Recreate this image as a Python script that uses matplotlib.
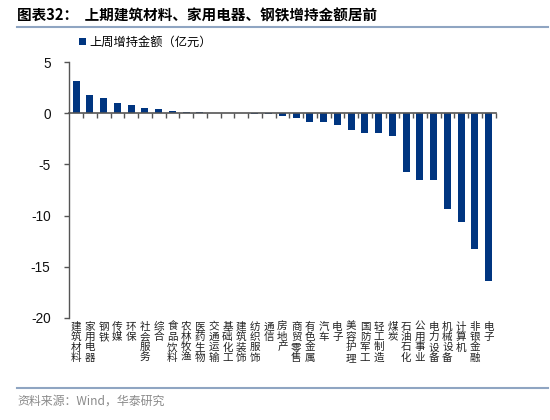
import matplotlib
matplotlib.use("Agg")
import matplotlib.pyplot as plt
from matplotlib.lines import Line2D
from matplotlib.patches import Patch
import matplotlib.transforms as mtransforms

plt.rcParams['font.family'] = ['Noto Sans CJK SC', 'DejaVu Sans']

categories = ["建筑材料", "家用电器", "钢铁", "传媒", "环保", "社会服务", "综合", "食品饮料",
              "农林牧渔", "医药生物", "交通运输", "基础化工", "建筑装饰", "纺织服饰", "通信",
              "房地产", "商贸零售", "有色金属", "汽车", "电子", "美容护理", "国防军工",
              "轻工制造", "煤炭", "石油石化", "公用事业", "电力设备", "机械设备", "计算机",
              "非银金融", "电子"]
values = [3.2, 1.8, 1.5, 1.0, 0.78, 0.52, 0.46, 0.26, 0.13, 0.1, 0.03, 0.02, 0.01, -0.02,
          -0.08, -0.25, -0.5, -0.86, -0.86, -1.1, -1.66, -1.9, -1.95, -2.2, -5.7, -6.5,
          -6.55, -9.4, -10.6, -13.3, -16.4]
yticks = [5, 0, -5, -10, -15, -20]
series_name = "上周增持金额（亿元）"
title = "图表32：  上期建筑材料、家用电器、钢铁增持金额居前"
source = "资料来源：Wind，华泰研究"

W, H = 550, 420
fig = plt.figure(figsize=(W / 100, H / 100), dpi=100)
fig.patch.set_facecolor("white")

left, right = 69.3 / W, 495.5 / W
top, bottom = 1 - 62.3 / H, 1 - 317.7 / H
ax = fig.add_axes([left, bottom, right - left, top - bottom])

bar_color = "#003580"
x = list(range(len(categories)))
ax.bar(x, values, width=0.5, color=bar_color, zorder=3)

ax.set_xlim(-0.5, len(categories) - 0.5)
ax.set_ylim(-20, 5)
ax.set_yticks(yticks)
ax.set_yticklabels([str(v) for v in yticks], fontsize=9.8, family="Liberation Sans",
                   color="#111111")
ax.tick_params(axis="y", direction="out", length=3.5, width=1, color="#555555", pad=10)

for s in ["top", "right"]:
    ax.spines[s].set_visible(False)
ax.spines["left"].set_color("#555555")
ax.spines["left"].set_linewidth(1)
ax.spines["bottom"].set_position(("data", 0))
ax.spines["bottom"].set_color("#555555")
ax.spines["bottom"].set_linewidth(1.2)
ax.spines["bottom"].set_zorder(4)

ax.set_xticks([i + 0.5 for i in x])
ax.set_xticklabels([])
ax.tick_params(axis="x", direction="out", length=3.5, width=1, color="#555555")

trans = mtransforms.blended_transform_factory(ax.transData, ax.transAxes)
for i, name in enumerate(categories):
    ax.text(i, -0.015, "\n".join(name), transform=trans, ha="center", va="top",
            fontsize=7.6, linespacing=1.05, color="#222222")

# legend
ax.legend(handles=[Patch(facecolor=bar_color, label=series_name)],
          loc="upper left", bbox_to_anchor=(79 / W, 1 - 36 / H),
          bbox_transform=fig.transFigure, frameon=False, fontsize=8.8,
          handlelength=0.55, handleheight=0.55, handletextpad=0.3,
          borderaxespad=0, borderpad=0)

# title and rules
fig.text(17 / W, 1 - 15 / H, title, fontsize=10.5, fontweight="bold", va="center", ha="left")
fig.add_artist(Line2D([17 / W, 548 / W], [1 - 27 / H, 1 - 27 / H], color="#8fa5c2", lw=1.5))
fig.add_artist(Line2D([17 / W, 548 / W], [1 - 388 / H, 1 - 388 / H], color="#8fa5c2", lw=1.5))
fig.text(17 / W, 1 - 401 / H, source, fontsize=8.6, color="#8a8a8a", va="center", ha="left")

fig.savefig("out.png", dpi=100, facecolor="white")
